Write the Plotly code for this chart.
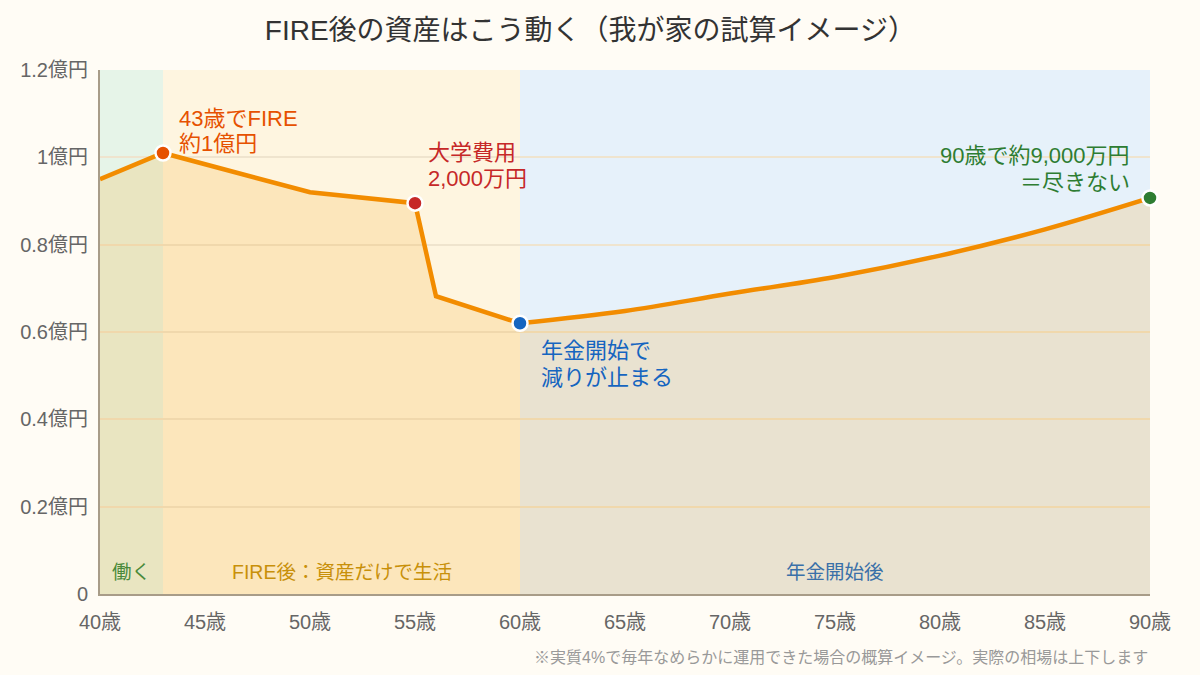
import plotly.graph_objects as go

# --- data ---
ages_fire = [40, 43, 50, 55, 56, 60]
assets_fire = [0.95, 1.01, 0.92, 0.895, 0.682, 0.62]
ages_pension = [60, 65, 70, 75, 80, 85, 90]
assets_pension = [0.62, 0.648, 0.688, 0.726, 0.775, 0.835, 0.907]

marker_ages = [43, 55, 60, 90]
marker_vals = [1.01, 0.895, 0.62, 0.907]
marker_colors = ["#E65100", "#C62828", "#1565C0", "#2E7D32"]

band_ranges = [(40, 43), (43, 60), (60, 90)]
band_colors = ["#E6F4E8", "#FEF5E0", "#E6F1FA"]
band_labels = ["働く", "FIRE後：資産だけで生活", "年金開始後"]
band_label_colors = ["#4A8A3A", "#C8900A", "#3A70A8"]

y_ticks = [0, 0.2, 0.4, 0.6, 0.8, 1.0, 1.2]
y_tick_labels = ["0", "0.2億円", "0.4億円", "0.6億円", "0.8億円", "1億円", "1.2億円"]
x_ticks = [40, 45, 50, 55, 60, 65, 70, 75, 80, 85, 90]
x_tick_labels = [f"{a}歳" for a in x_ticks]

callout_lines = [
    ["43歳でFIRE", "約1億円"],
    ["大学費用", "2,000万円"],
    ["年金開始で", "減りが止まる"],
    ["90歳で約9,000万円", "＝尽きない"],
]

FONT = "Liberation Sans, Noto Sans CJK JP"
LINE = "#F28C00"
FILL = "rgba(245,170,40,0.2)"

fig = go.Figure()
fig.add_trace(go.Scatter(x=ages_fire, y=assets_fire, mode="lines",
                         line=dict(color=LINE, width=4.5), fill="tozeroy",
                         fillcolor=FILL, hoverinfo="skip", showlegend=False))
fig.add_trace(go.Scatter(x=ages_pension, y=assets_pension, mode="lines",
                         line=dict(color=LINE, width=4.5, shape="spline"), fill="tozeroy",
                         fillcolor=FILL, hoverinfo="skip", showlegend=False))
fig.add_trace(go.Scatter(x=marker_ages, y=marker_vals, mode="markers",
                         marker=dict(size=15, color=marker_colors,
                                     line=dict(color="white", width=2.5)),
                         cliponaxis=False, showlegend=False))

shapes = []
for (x0, x1), c in zip(band_ranges, band_colors):
    shapes.append(dict(type="rect", xref="x", yref="y", x0=x0, x1=x1, y0=0, y1=1.2,
                       fillcolor=c, line=dict(width=0), layer="below"))

annotations = []
for (x0, x1), lab, c in zip(band_ranges, band_labels, band_label_colors):
    annotations.append(dict(x=(x0 + x1) / 2, y=0.05, xref="x", yref="y", text=lab,
                            showarrow=False, font=dict(family=FONT, size=19.5, color=c)))

ANN = 22
# (xanchor, xshift, [yshift line1, yshift line2]) relative to each marker
callout_pos = [
    ("left", 14, [34, 9]),
    ("left", 11, [51, 25]),
    ("left", 19, [-27, -54]),
    ("right", -18, [42, 15]),
]
for i, (lines, (xa, xs, yss)) in enumerate(zip(callout_lines, callout_pos)):
    for txt, ys in zip(lines, yss):
        annotations.append(dict(x=marker_ages[i], y=marker_vals[i], xref="x", yref="y",
                                text=txt, showarrow=False, xanchor=xa, yanchor="middle",
                                xshift=xs, yshift=ys,
                                font=dict(family=FONT, size=ANN, color=marker_colors[i])))

annotations.append(dict(x=1, y=0, xref="paper", yref="paper",
                        text="※実質4%で毎年なめらかに運用できた場合の概算イメージ。実際の相場は上下します",
                        showarrow=False, xanchor="right", yanchor="middle", yshift=-63, xshift=0,
                        font=dict(family=FONT, size=16, color="#999999")))

fig.update_layout(
    width=1200, height=675,
    paper_bgcolor="#FFFCF5", plot_bgcolor="rgba(0,0,0,0)",
    margin=dict(l=100, r=50, t=70, b=81),
    title=dict(text="FIRE後の資産はこう動く（我が家の試算イメージ）", x=0.492, xanchor="center",
               y=0.955, yanchor="middle",
               font=dict(family=FONT, size=28, color="#333333")),
    font=dict(family=FONT, color="#666666"),
    shapes=shapes, annotations=annotations,
    xaxis=dict(range=[40, 90], tickvals=x_ticks, ticktext=x_tick_labels,
               showgrid=False, zeroline=False, showline=True, linecolor="#A89C88", linewidth=2,
               ticks="", ticklabelstandoff=9,
               tickfont=dict(family=FONT, size=20, color="#666666")),
    yaxis=dict(range=[0, 1.2], tickvals=y_ticks, ticktext=y_tick_labels,
               showgrid=True, gridcolor="#EFE4CE", gridwidth=1.5, zeroline=False,
               showline=True, linecolor="#A89C88", linewidth=2, ticks="",
               ticklabelstandoff=6,
               tickfont=dict(family=FONT, size=20, color="#666666")),
)

fig.write_html("out.html")
